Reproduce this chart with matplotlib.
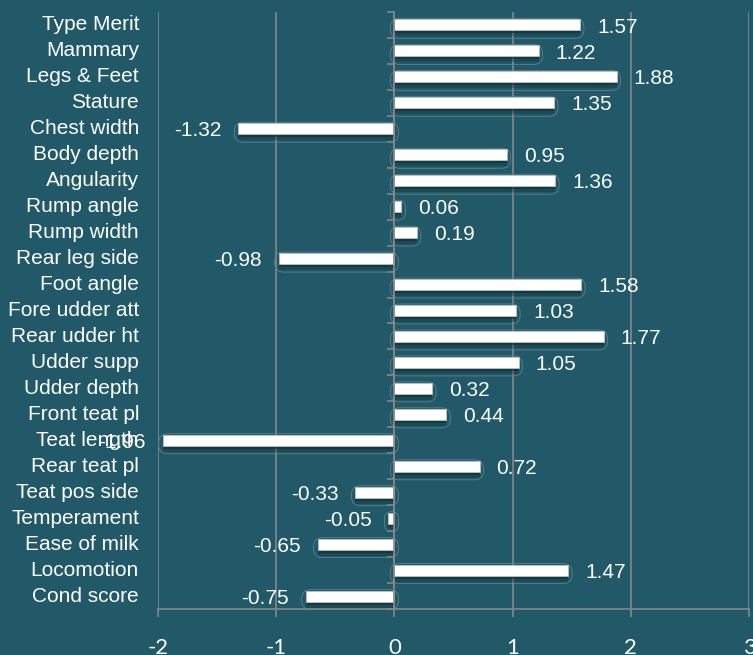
import numpy as np
import matplotlib
matplotlib.use("Agg")
import matplotlib.pyplot as plt
from matplotlib.patches import FancyBboxPatch

traits = ["Type Merit", "Mammary", "Legs & Feet", "Stature", "Chest width",
          "Body depth", "Angularity", "Rump angle", "Rump width", "Rear leg side",
          "Foot angle", "Fore udder att", "Rear udder ht", "Udder supp",
          "Udder depth", "Front teat pl", "Teat length", "Rear teat pl",
          "Teat pos side", "Temperament", "Ease of milk", "Locomotion", "Cond score"]
values = [1.57, 1.22, 1.88, 1.35, -1.32, 0.95, 1.36, 0.06, 0.19, -0.98,
          1.58, 1.03, 1.77, 1.05, 0.32, 0.44, -1.96, 0.72, -0.33, -0.05,
          -0.65, 1.47, -0.75]
xticks = [-2, -1, 0, 1, 2, 3]

BG = "#215968"
GRID = "#878787"
W, H = 753, 655
AX_L, AX_B, AX_W, AX_H = 158, 46, 591, 597

fig = plt.figure(figsize=(W / 100, H / 100), dpi=100, facecolor=BG)
ax = fig.add_axes([AX_L / W, AX_B / H, AX_W / W, AX_H / H], facecolor=BG)
n = len(traits)
ax.set_xlim(xticks[0], xticks[-1])
ax.set_ylim(n - 0.5, -0.5)

# data units per pixel
pxx = (xticks[-1] - xticks[0]) / AX_W
pxy = n / AX_H

y = np.arange(n)
v = np.array(values)
bh = 11 * pxy

# faint rounded outline behind each bar
for yi, val in zip(y, v):
    wpx = abs(val) / pxx + 8
    r = min(9, wpx / 2) * pxx
    box = FancyBboxPatch((min(0, val) - 4 * pxx, yi - bh / 2 - 1 * pxy), wpx * pxx, 20 * pxy,
                         boxstyle=f"round,pad=0,rounding_size={r}", mutation_aspect=pxy / pxx,
                         fill=False, ec="#5f828b", lw=0.6, zorder=1)
    ax.add_patch(box)

# soft shadow
ax.barh(y + 3 * pxy, v, height=bh, left=0, color="#0f2f37", alpha=0.6, zorder=2)
ax.barh(y + 6 * pxy, v, height=bh, left=0, color="#0f2f37", alpha=0.35, zorder=2)
ax.barh(y, v, height=bh, color="white", ec="#c8c8c8", lw=0.5, zorder=3)

for yi, val, name in zip(y, v, traits):
    ax.text(-19 / AX_W, yi, name, transform=ax.get_yaxis_transform(), ha="right",
            va="center", color="white", fontsize=15, family="Liberation Sans")
    off = 17 * 0.72 if val >= 0 else -17 * 0.72
    ax.annotate(f"{val:.2f}", xy=(val, yi), xytext=(off, -1.5), textcoords="offset points",
                ha="left" if val >= 0 else "right", va="center", color="white",
                fontsize=15, family="Liberation Sans", zorder=5)

ax.set_xticks(xticks)
ax.set_xticklabels([str(t) for t in xticks], family="Lato")
ax.grid(axis="x", color=GRID, lw=1.2, zorder=0)
ax.set_axisbelow(True)
ax.set_yticks(np.arange(-0.5, n, 1.0))
ax.set_yticklabels([])
for s in ["top", "right"]:
    ax.spines[s].set_visible(False)
ax.spines["left"].set_position(("data", 0))
ax.spines["left"].set_color(GRID)
ax.spines["left"].set_linewidth(1.2)
ax.spines["left"].set_zorder(4)
ax.spines["bottom"].set_color(GRID)
ax.spines["bottom"].set_linewidth(1.2)
ax.tick_params(axis="y", length=5, color=GRID, width=1.2)
ax.tick_params(axis="x", length=6, color=GRID, width=1.2, pad=15, labelsize=16,
               labelcolor="white")

fig.savefig("out.png", dpi=100, facecolor=BG)
